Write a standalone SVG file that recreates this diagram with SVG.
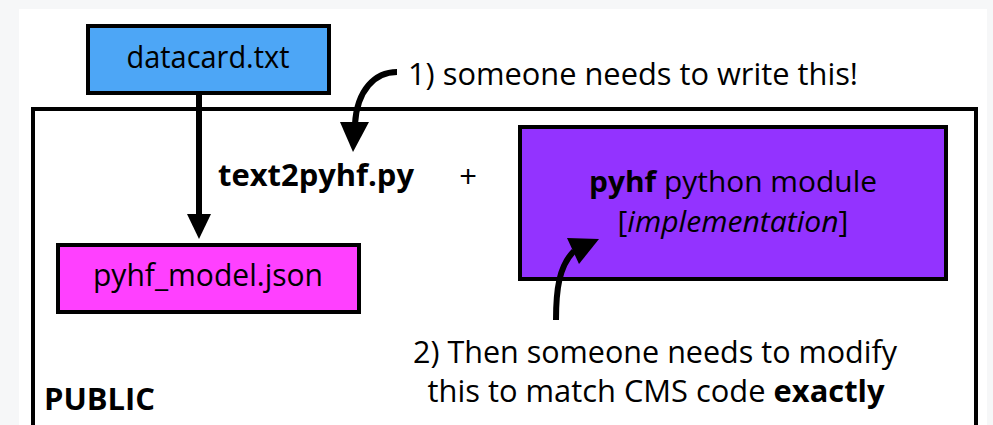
<svg xmlns="http://www.w3.org/2000/svg" width="993" height="425" viewBox="0 0 993 425">
<style>
.t{font-family:"Open Sans","Noto Sans","DejaVu Sans",sans-serif;fill:#000}
.box{stroke:#000;stroke-width:4}
.ln{fill:none;stroke:#000;stroke-width:6}
</style>
<rect x="0" y="0" width="993" height="425" fill="#f6f7f8"/>
<rect x="19" y="9" width="968" height="416" fill="#ffffff"/>
<g id="public">
<rect x="33" y="109" width="943" height="340" fill="none" class="box"/>
<text class="t" x="44" y="410" font-size="30" font-weight="bold" textLength="111" lengthAdjust="spacingAndGlyphs">PUBLIC</text>
</g>
<g id="datacard">
<rect x="88" y="26" width="241" height="67" fill="#4da6f6" class="box"/>
<text class="t" x="208" y="68" font-size="31" text-anchor="middle" textLength="163" lengthAdjust="spacingAndGlyphs">datacard.txt</text>
</g>
<g id="text2pyhf">
<text class="t" x="218" y="186" font-size="30" font-weight="bold" textLength="196" lengthAdjust="spacingAndGlyphs">text2pyhf.py</text>
</g>
<g id="plus">
<text class="t" x="468" y="188" font-size="31" text-anchor="middle">+</text>
</g>
<g id="pyhf_model">
<rect x="58" y="245" width="301" height="67" fill="#ff40ff" class="box"/>
<text class="t" x="208" y="286" font-size="31" text-anchor="middle" textLength="230" lengthAdjust="spacingAndGlyphs">pyhf_model.json</text>
</g>
<g id="pyhf_module">
<rect x="520" y="127" width="426" height="152" fill="#9333ff" class="box"/>
<text class="t" x="733" y="192" font-size="29" text-anchor="middle" textLength="288" lengthAdjust="spacingAndGlyphs"><tspan font-weight="bold">pyhf</tspan> python module</text>
<text class="t" x="733" y="232" font-size="29" text-anchor="middle" textLength="231" lengthAdjust="spacingAndGlyphs">[<tspan font-style="italic">implementation</tspan>]</text>
</g>
<g id="note1">
<text class="t" x="408" y="85" font-size="31" textLength="450" lengthAdjust="spacingAndGlyphs">1) someone needs to write this!</text>
</g>
<g id="note2">
<text class="t" x="655" y="363" font-size="31" text-anchor="middle" textLength="484" lengthAdjust="spacingAndGlyphs">2) Then someone needs to modify</text>
<text class="t" x="656" y="402" font-size="31" text-anchor="middle" textLength="457" lengthAdjust="spacingAndGlyphs">this to match CMS code <tspan font-weight="bold">exactly</tspan></text>
</g>
<g id="connectors">
<line class="ln" x1="199" y1="95" x2="199" y2="216" stroke-width="5"/>
<polygon points="187,214 211,214 199,239" fill="#000"/>
<path class="ln" d="M397,72 C375,72 357,90 355,124"/>
<polygon points="340,122 369,122 353,152" fill="#000"/>
<path class="ln" d="M556,320 C556,290 559,266 574,251"/>
<polygon points="567,238 599,239 579,264" fill="#000"/>
</g>
</svg>
